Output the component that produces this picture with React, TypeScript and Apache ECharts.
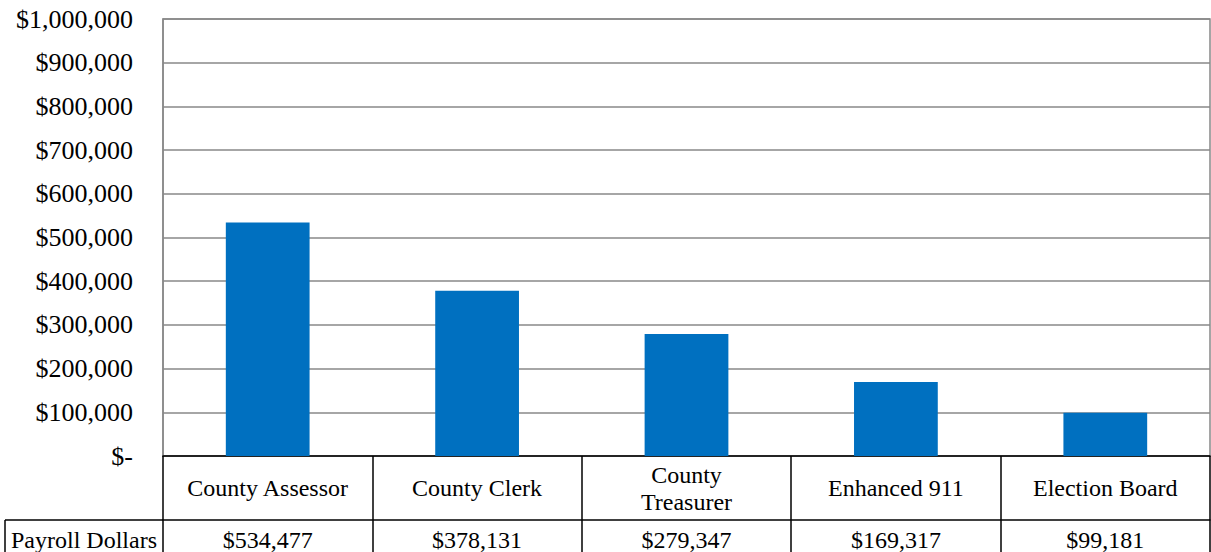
import React, { useEffect, useRef } from "react";
import * as echarts from "echarts";

const categories = ["County Assessor", "County Clerk", "County\nTreasurer", "Enhanced 911", "Election Board"];
const payroll = [534477, 378131, 279347, 169317, 99181];
const rowLabel = "Payroll Dollars";
const yMax = 1000000;
const yInterval = 100000;

const FONT = "Liberation Serif";

function money(v: number): string {
  if (v === 0) return "$-";
  return "$" + v.toLocaleString("en-US");
}

export default function App() {
  const ref = useRef<HTMLDivElement>(null);
  useEffect(() => {
    document.body.style.margin = "0";
    if (!ref.current) return;
    const chart = echarts.init(ref.current, undefined, { renderer: "svg" });
    const gridLeft = 163;
    const gridBottom = 96;
    chart.setOption({
      animation: false,
      textStyle: { fontFamily: FONT, color: "#000", fontSize: 24 },
      grid: {
        left: gridLeft,
        right: 1,
        top: 19,
        bottom: gridBottom,
        show: true,
        borderColor: "#888",
        borderWidth: 1.5,
      },
      yAxis: {
        type: "value",
        min: 0,
        max: yMax,
        interval: yInterval,
        axisLine: { show: true, lineStyle: { color: "#888", width: 1.5 } },
        axisTick: { show: false },
        splitLine: { show: true, lineStyle: { color: "#888", width: 1.5 } },
        axisLabel: {
          formatter: (v: number) => money(v),
          fontFamily: FONT,
          fontSize: 26,
          color: "#000",
          margin: 30,
        },
      },
      xAxis: [
        {
          type: "category",
          data: categories,
          position: "bottom",
          axisLine: { show: true, lineStyle: { color: "#000", width: 1.5 } },
          axisTick: { show: true, length: 64, lineStyle: { color: "#000", width: 1.5 } },
          axisLabel: {
            fontFamily: FONT,
            fontSize: 24,
            color: "#000",
            margin: 32,
            verticalAlign: "middle",
            lineHeight: 27,
            interval: 0,
          },
        },
        {
          type: "category",
          data: categories,
          position: "bottom",
          offset: 64,
          axisLine: { show: true, lineStyle: { color: "#000", width: 1.5 } },
          axisTick: { show: true, length: 40, lineStyle: { color: "#000", width: 1.5 } },
          axisLabel: {
            fontFamily: FONT,
            fontSize: 24,
            color: "#000",
            margin: 20,
            verticalAlign: "middle",
            interval: 0,
            formatter: (_v: string, i: number) => money(payroll[i]),
          },
        },
      ],
      series: [
        {
          type: "bar",
          data: payroll,
          xAxisIndex: 0,
          barWidth: "40%",
          itemStyle: { color: "#0070C0" },
        },
      ],
      graphic: [
        {
          type: "line",
          shape: { x1: 5, y1: 520, x2: gridLeft, y2: 520 },
          style: { stroke: "#000", lineWidth: 1.5 },
        },
        {
          type: "line",
          shape: { x1: 5, y1: 520, x2: 5, y2: 560 },
          style: { stroke: "#000", lineWidth: 1.5 },
        },
        {
          type: "text",
          x: 84,
          y: 540,
          style: {
            text: rowLabel,
            fontFamily: FONT,
            fontSize: 24,
            fill: "#000",
            align: "center",
            verticalAlign: "middle",
          },
        },
      ],
    });
    return () => chart.dispose();
  }, []);
  return <div ref={ref} style={{ width: 1211, height: 552 }} />;
}
